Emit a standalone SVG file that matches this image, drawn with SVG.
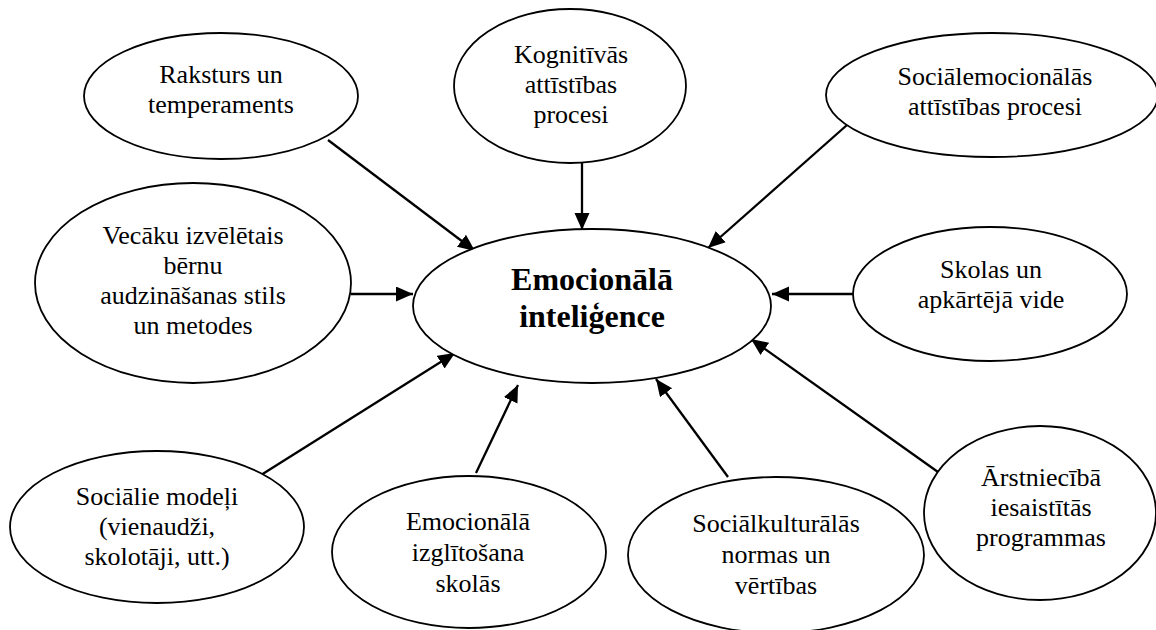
<svg xmlns="http://www.w3.org/2000/svg" width="1156" height="630" viewBox="0 0 1156 630">
  <defs>
    <marker id="arrow" markerUnits="userSpaceOnUse" markerWidth="18" markerHeight="16" refX="17" refY="7.5" orient="auto">
      <path d="M0,0 L17,7.5 L0,15 z" fill="#000"/>
    </marker>
    <style>
      .node ellipse { fill: #fff; stroke: #000; stroke-width: 1.8; }
      .node text { font-size: 26px; fill: #000; text-anchor: middle; }
      #center text { font-size: 32px; font-weight: bold; }
      .edges line { stroke: #000; stroke-width: 2.3; marker-end: url(#arrow); }
    </style>
  </defs>
  <rect width="1156" height="630" fill="#fff"/>

  <!-- influences pointing into the central node -->
  <g class="edges">
    <line x1="328" y1="140" x2="475" y2="251"/>
    <line x1="582" y1="163" x2="582" y2="230"/>
    <line x1="847" y1="125" x2="708" y2="248"/>
    <line x1="351" y1="294" x2="413" y2="294"/>
    <line x1="853" y1="294" x2="772" y2="294"/>
    <line x1="261" y1="475" x2="455" y2="353"/>
    <line x1="476" y1="473" x2="518" y2="385"/>
    <line x1="728" y1="477" x2="656" y2="379"/>
    <line x1="938" y1="472" x2="751" y2="339"/>
  </g>

  <g font-family="Liberation Serif, Tinos, DejaVu Serif, serif">
    <g id="center" class="node">
      <ellipse cx="592" cy="306" rx="179" ry="77"/>
      <text x="592" y="290">Emocionālā</text>
      <text x="592" y="327">inteliģence</text>
    </g>

    <g id="raksturs" class="node">
      <ellipse cx="221" cy="96" rx="137" ry="63"/>
      <text x="221" y="83">Raksturs un</text>
      <text x="221" y="113">temperaments</text>
    </g>

    <g id="kognitivas" class="node">
      <ellipse cx="570" cy="86" rx="116" ry="77"/>
      <text x="571" y="63">Kognitīvās</text>
      <text x="571" y="93">attīstības</text>
      <text x="571" y="123">procesi</text>
    </g>

    <g id="socialemocionalas" class="node">
      <ellipse cx="992" cy="95" rx="166" ry="62"/>
      <text x="995" y="85">Sociālemocionālās</text>
      <text x="995" y="115">attīstības procesi</text>
    </g>

    <g id="vecaku" class="node">
      <ellipse cx="193" cy="283" rx="158" ry="100"/>
      <text x="193" y="244">Vecāku izvēlētais</text>
      <text x="193" y="274">bērnu</text>
      <text x="193" y="304">audzināšanas stils</text>
      <text x="193" y="334">un metodes</text>
    </g>

    <g id="skolas" class="node">
      <ellipse cx="990" cy="294" rx="137" ry="67"/>
      <text x="991" y="278">Skolas un</text>
      <text x="991" y="308">apkārtējā vide</text>
    </g>

    <g id="socialie" class="node">
      <ellipse cx="157" cy="527" rx="147" ry="76"/>
      <text x="157" y="505">Sociālie modeļi</text>
      <text x="157" y="535">(vienaudži,</text>
      <text x="157" y="565">skolotāji, utt.)</text>
    </g>

    <g id="izglitosana" class="node">
      <ellipse cx="469" cy="552" rx="137" ry="76"/>
      <text x="468" y="530">Emocionālā</text>
      <text x="468" y="561">izglītošana</text>
      <text x="468" y="592">skolās</text>
    </g>

    <g id="socialkulturalas" class="node">
      <ellipse cx="776" cy="555" rx="148" ry="78"/>
      <text x="776" y="532">Sociālkulturālās</text>
      <text x="776" y="563">normas un</text>
      <text x="776" y="594">vērtības</text>
    </g>

    <g id="arstnieciba" class="node">
      <ellipse cx="1040" cy="513" rx="116" ry="87"/>
      <text x="1041" y="486">Ārstniecībā</text>
      <text x="1041" y="516">iesaistītās</text>
      <text x="1041" y="546">programmas</text>
    </g>
  </g>
</svg>
